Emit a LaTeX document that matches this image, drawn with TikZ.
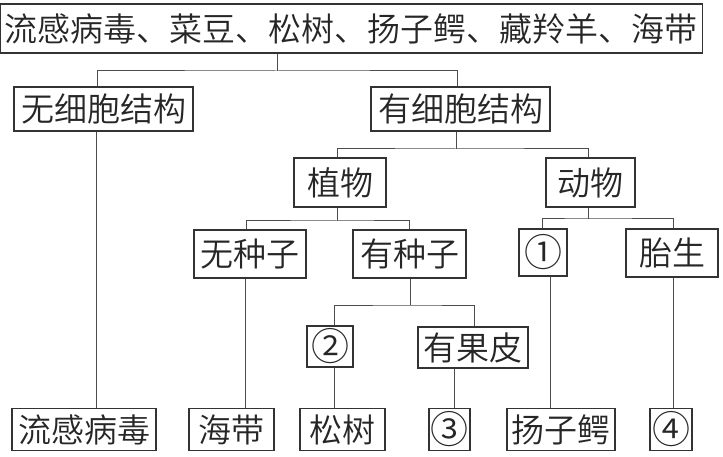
\documentclass[tikz,border=0pt]{standalone}
\usepackage{fontspec}
\newfontfamily\cjk{Noto Sans CJK SC}[UprightFont=* DemiLight]
\begin{document}
\begin{tikzpicture}[x=1pt, y=1pt,
  box/.style={draw=black!80, line width=1.2pt, inner sep=0pt, text=black!85, font=\cjk\fontsize{33pt}{36pt}\selectfont, text height=27.4pt, text depth=2.3pt},
  num/.style={box, font=\cjk\fontsize{38pt}{41pt}\selectfont, text height=31.5pt, text depth=2.6pt},
  link/.style={draw=black!70, line width=1pt}]
\useasboundingbox (0,0) rectangle (723,-457);
\node[box, minimum width=702pt, minimum height=49pt] (all) at (351.5,-28.5) {流感病毒、菜豆、松树、扬子鳄、藏羚羊、海带};
\node[box, minimum width=179pt, minimum height=44pt] (nocell) at (103.5,-109) {无细胞结构};
\node[box, minimum width=179pt, minimum height=44pt] (cell) at (460.5,-109) {有细胞结构};
\node[box, minimum width=92pt, minimum height=49pt] (plant) at (340,-182.5) {植物};
\node[box, minimum width=89pt, minimum height=49pt] (animal) at (590.5,-182.5) {动物};
\node[box, minimum width=112pt, minimum height=48pt] (noseed) at (250,-254) {无种子};
\node[box, minimum width=113pt, minimum height=48pt] (seed) at (409.5,-254) {有种子};
\node[num, minimum width=48pt, minimum height=47pt] (one) at (543,-252.5) {①};
\node[box, minimum width=92pt, minimum height=48pt] (viv) at (672,-253) {胎生};
\node[num, minimum width=46pt, minimum height=41pt] (two) at (330,-346.5) {②};
\node[box, minimum width=110pt, minimum height=41pt] (peel) at (473,-347.5) {有果皮};
\node[box, minimum width=144pt, minimum height=42pt] (flu) at (84,-429.5) {流感病毒};
\node[box, minimum width=85pt, minimum height=42pt] (kelp) at (231.5,-429.5) {海带};
\node[box, minimum width=85pt, minimum height=42pt] (pine) at (342.5,-429.5) {松树};
\node[num, minimum width=41pt, minimum height=42pt] (three) at (449.5,-429.5) {③};
\node[box, minimum width=108pt, minimum height=42pt] (croc) at (561,-429.5) {扬子鳄};
\node[num, minimum width=42pt, minimum height=42pt] (four) at (671,-429.5) {④};
\coordinate (f1) at (277,-71);
\coordinate (f2) at (456,-149);
\coordinate (f3) at (337,-221);
\coordinate (f4) at (588,-219);
\coordinate (f5) at (410,-305);
\draw[link] (all.south -| f1) -- (f1);
\draw[link] ([xshift=-6.5pt]nocell.north) |- (f1) -| ([xshift=-3.5pt]cell.north);
\draw[link] (cell.south -| f2) -- (f2);
\draw[link] ([xshift=-3pt]plant.north) |- (f2) -| ([xshift=-2.5pt]animal.north);
\draw[link] (plant.south -| f3) -- (f3);
\draw[link] ([xshift=-4pt]noseed.north) |- (f3) -| (seed.north);
\draw[link] (animal.south -| f4) -- (f4);
\draw[link] ([xshift=-1pt]one.north) |- (f4) -| ([xshift=1pt]viv.north);
\draw[link] (seed.south -| f5) -- (f5);
\draw[link] ([xshift=4pt]two.north) |- (f5) -| ([xshift=1pt]peel.north);
\draw[link] ([xshift=-7.5pt]nocell.south) -- ([xshift=-7.5pt]nocell.south |- flu.north);
\draw[link] ([xshift=-5pt]noseed.south) -- ([xshift=-5pt]noseed.south |- kelp.north);
\draw[link] ([xshift=4pt]two.south) -- ([xshift=4pt]two.south |- pine.north);
\draw[link] ([xshift=-19pt]peel.south) -- ([xshift=-19pt]peel.south |- three.north);
\draw[link] ([xshift=7pt]one.south) -- ([xshift=7pt]one.south |- croc.north);
\draw[link] ([xshift=1pt]viv.south) -- ([xshift=1pt]viv.south |- four.north);
\end{tikzpicture}
\end{document}
